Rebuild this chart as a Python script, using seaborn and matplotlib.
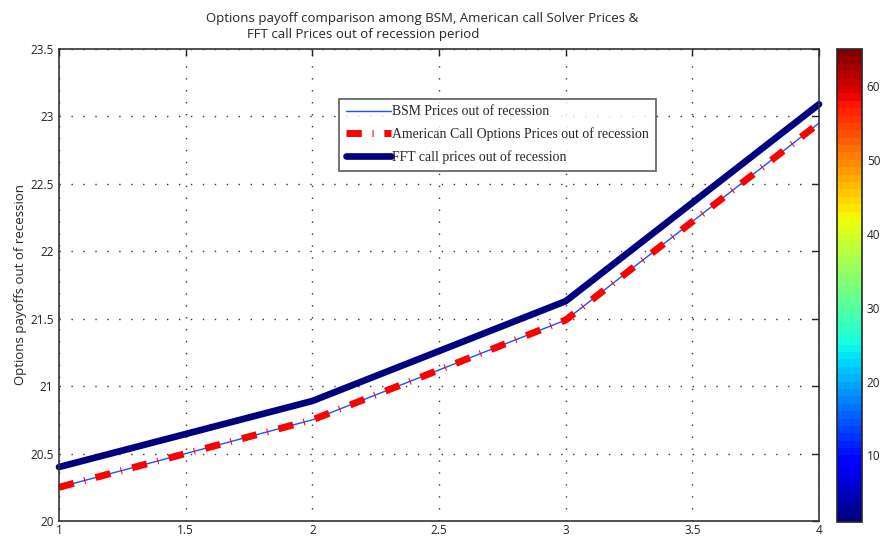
import numpy as np
import pandas as pd
import seaborn as sns
import matplotlib.pyplot as plt
import matplotlib as mpl

# data
periods = [1, 2, 3, 4]
bsm_prices = [20.25, 20.75, 21.49, 22.95]
american_prices = [20.25, 20.75, 21.49, 22.95]
fft_prices = [20.40, 20.89, 21.63, 23.09]

df = pd.DataFrame({"period": periods, "BSM": bsm_prices,
                   "American": american_prices, "FFT": fft_prices})

sns.set_style("white")
plt.rcParams['font.family'] = ['Open Sans', 'DejaVu Sans']

fig = plt.figure(figsize=(8.86, 5.36), dpi=100)
ax = fig.add_axes([0.0666, 0.028, 0.8578, 0.8806])

sns.lineplot(data=df, x="period", y="BSM", ax=ax, color="#1f4fff", lw=1,
             label="BSM Prices out of recession", clip_on=False)
sns.lineplot(data=df, x="period", y="American", ax=ax, color="#ff0000", lw=5,
             dashes=False, label="American Call Options Prices out of recession", clip_on=False)
ax.lines[1].set_dashes((2.2, 1.55, 0.15, 1.55))
sns.lineplot(data=df, x="period", y="FFT", ax=ax, color="#000080", lw=4.8,
             label="FFT call prices out of recession", clip_on=False)

ax.set_xlim(1, 4)
ax.set_ylim(20, 23.5)
ax.set_xticks(np.arange(1, 4.01, 0.5))
ax.set_xticklabels(["1", "1.5", "2", "2.5", "3", "3.5", "4"])
ax.set_yticks(np.arange(20, 23.51, 0.5))
ax.set_yticklabels(["20", "20.5", "21", "21.5", "22", "22.5", "23", "23.5"])
ax.tick_params(direction="in", length=5, width=1, top=True, right=True,
               labelsize=8.5, pad=4, colors="#222222")
ax.tick_params(axis="x", pad=2)
ax.set_xlabel("")
ax.set_ylabel("Options payoffs out of recession", fontsize=9.5, labelpad=2)
ax.grid(True, color="#333333", lw=1, linestyle=(0, (1, 7.6)))
for s in ax.spines.values():
    s.set_color("#333333")
    s.set_linewidth(1.2)

leg = ax.legend(loc="upper left", bbox_to_anchor=(0.368, 0.895), frameon=True,
                fancybox=False, prop={"family": "Liberation Serif", "size": 9.9},
                handlelength=3.3, handletextpad=0.1, borderpad=0.5,
                labelspacing=0.65, borderaxespad=0)
leg.get_frame().set_edgecolor("#333333")
leg.get_frame().set_linewidth(1.2)

fig.text(0.233, 0.966, "Options payoff comparison among BSM, American call Solver Prices &",
         fontsize=9.5, ha="left", va="center")
fig.text(0.279, 0.936, "FFT call Prices out of recession period",
         fontsize=9.5, ha="left", va="center")

# colorbar on the right (jet, 64 levels)
cax = fig.add_axes([0.9447, 0.0261, 0.0282, 0.8825])
cmap = mpl.colormaps["jet"].resampled(64)
cb = mpl.colorbar.ColorbarBase(cax, cmap=cmap, norm=mpl.colors.Normalize(1, 65))
cb.set_ticks([10, 20, 30, 40, 50, 60])
cax.tick_params(direction="in", length=4, width=1, left=True, right=True,
                labelsize=8.5, colors="#222222")
cb.outline.set_linewidth(1.2)

fig.savefig("out.png", dpi=100)
